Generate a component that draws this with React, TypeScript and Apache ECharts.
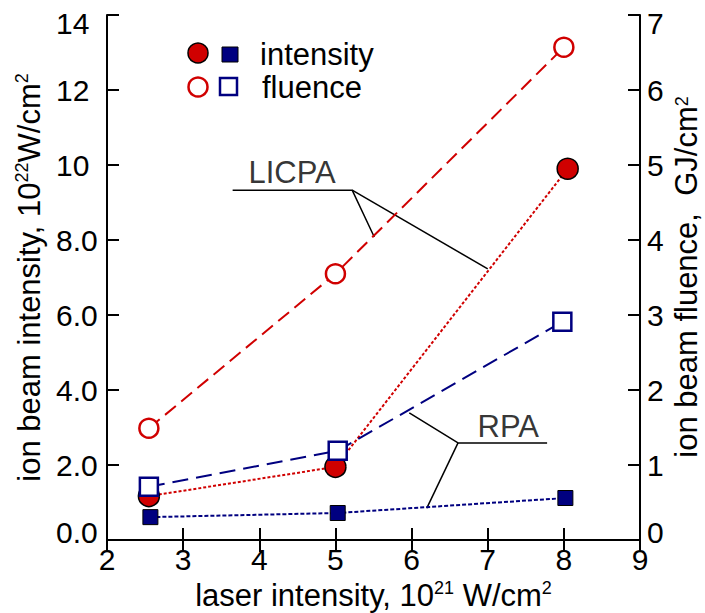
import React, { useEffect, useRef } from "react";
import * as echarts from "echarts";

// ---- data ----
const xTickRange = [2, 9];
const leftRange = [0, 14];
const rightRange = [0, 7];

// LICPA
const licpaFluence = [[2.55, 1.49], [5.0, 3.55], [8.0, 6.57]]; // GJ/cm2 (right axis)
const licpaIntensity = [[2.55, 1.17], [5.0, 1.95], [8.05, 9.9]]; // 1e22 W/cm2 (left axis)
// RPA
const rpaFluence = [[2.55, 0.71], [5.03, 1.19], [7.98, 2.91]]; // right axis
const rpaIntensity = [[2.57, 0.61], [5.03, 0.72], [8.02, 1.12]]; // left axis

// annotation pointers (left-axis data coordinates)
const licpaPointerA = [[3.65, 9.33], [5.22, 9.33], [5.51, 8.08]];
const licpaPointerB = [[5.22, 9.33], [7.0, 7.23]];
const rpaPointerA = [[7.78, 2.59], [6.61, 2.59], [5.97, 3.39]];
const rpaPointerB = [[6.61, 2.59], [6.2, 0.85]];
const annotationLabels = [
  { name: "LICPA", value: [4.43, 9.81] },
  { name: "RPA", value: [7.27, 3.04] },
];

const legendRows = ["intensity", "fluence"];
const rightTitle = "{a|ion beam fluence,  GJ/cm}{s|2}";

const RED = "#d00000";
const NAVY = "#000080";
const FONT = "'Liberation Sans', Arial, Helvetica, sans-serif";
const FS = 31;

export default function App() {
  const ref = useRef<HTMLDivElement>(null);

  useEffect(() => {
    if (!ref.current) return;
    const chart = echarts.init(ref.current, null, { renderer: "svg" });

    const richName = {
      a: { fontSize: FS, fontFamily: FONT, color: "#000", lineHeight: 34 },
      s: { fontSize: 18, fontFamily: FONT, color: "#000", lineHeight: 22, verticalAlign: "top" },
    };
    const richNameRight = {
      a: { fontSize: FS, fontFamily: FONT, fill: "#000", lineHeight: 26 },
      s: { fontSize: 18, fontFamily: FONT, fill: "#000", lineHeight: 14, verticalAlign: "top" },
    };

    const tickStyle = { show: true, inside: true, length: 12, lineStyle: { color: "#000", width: 2 } };
    const axisLineStyle = { show: true, lineStyle: { color: "#000", width: 2 } };
    const labelBase = { color: "#000", fontSize: FS - 1, fontFamily: FONT };

    const pointerSeries = (data: number[][]) => ({
      type: "line",
      xAxisIndex: 0,
      yAxisIndex: 0,
      data,
      symbol: "none",
      silent: true,
      lineStyle: { color: "#000", width: 1.5 },
      z: 1,
    });

    const option: any = {
      animation: false,
      backgroundColor: "#fff",
      grid: { left: 107, right: 65, top: 15, bottom: 73, containLabel: false, outerBoundsMode: "none" },
      xAxis: [
        {
          type: "value",
          position: "bottom",
          min: xTickRange[0],
          max: xTickRange[1],
          interval: 1,
          axisLine: axisLineStyle,
          axisTick: tickStyle,
          splitLine: { show: false },
          axisLabel: { ...labelBase, margin: 4 },
          name: "{a|laser intensity, 10}{s|21}{a| W/cm}{s|2}",
          nameLocation: "middle",
          nameGap: 17,
          nameTextStyle: { rich: richName },
        },
        {
          type: "value",
          position: "top",
          min: xTickRange[0],
          max: xTickRange[1],
          interval: 1,
          axisLine: axisLineStyle,
          axisTick: tickStyle,
          splitLine: { show: false },
          axisLabel: { show: false },
        },
      ],
      yAxis: [
        {
          type: "value",
          position: "left",
          min: leftRange[0],
          max: leftRange[1],
          interval: 2,
          axisLine: axisLineStyle,
          axisTick: tickStyle,
          splitLine: { show: false },
          axisLabel: {
            ...labelBase,
            align: "left",
            margin: 51,
            lineHeight: 16,
            verticalAlignMaxLabel: "top",
            verticalAlignMinLabel: "bottom",
            formatter: (v: number) => (v >= 10 ? String(v) : v.toFixed(1)),
          },
          name: "{a|ion beam intensity, 10}{s|22}{a|W/cm}{s|2}",
          nameLocation: "middle",
          nameRotate: 90,
          nameGap: 60,
          nameTextStyle: { rich: richName },
        },
        {
          type: "value",
          position: "right",
          min: rightRange[0],
          max: rightRange[1],
          interval: 1,
          axisLine: axisLineStyle,
          axisTick: tickStyle,
          splitLine: { show: false },
          axisLabel: {
            ...labelBase,
            align: "left",
            margin: 7,
            lineHeight: 16,
            verticalAlignMaxLabel: "top",
            verticalAlignMinLabel: "bottom",
          },
        },
      ],
      graphic: [
        { type: "circle", shape: { cx: 198, cy: 53, r: 10 }, style: { fill: RED, stroke: "#000", lineWidth: 1.5 } },
        { type: "rect", shape: { x: 222, y: 47, width: 16, height: 15 }, style: { fill: NAVY, stroke: "#000", lineWidth: 1 } },
        { type: "circle", shape: { cx: 198, cy: 87, r: 9.5 }, style: { fill: "#fff", stroke: RED, lineWidth: 2.5 } },
        { type: "rect", shape: { x: 220, y: 78, width: 17, height: 17 }, style: { fill: "#fff", stroke: NAVY, lineWidth: 2.5 } },
        {
          type: "text",
          x: 260,
          y: 54,
          style: { text: legendRows[0], fill: "#000", fontSize: FS, fontFamily: FONT, verticalAlign: "middle", align: "left" },
        },
        {
          type: "text",
          x: 262,
          y: 87,
          style: { text: legendRows[1], fill: "#000", fontSize: FS, fontFamily: FONT, verticalAlign: "middle", align: "left" },
        },
        {
          type: "text",
          x: 686,
          y: 277,
          rotation: Math.PI / 2,
          style: {
            text: rightTitle,
            rich: richNameRight,
            fill: "#000",
            fontSize: FS,
            fontFamily: FONT,
            align: "center",
            verticalAlign: "middle",
          },
        },
      ],
      series: [
        pointerSeries(licpaPointerA),
        pointerSeries(licpaPointerB),
        pointerSeries(rpaPointerA),
        pointerSeries(rpaPointerB),
        {
          type: "scatter",
          xAxisIndex: 0,
          yAxisIndex: 0,
          data: annotationLabels,
          symbolSize: 0,
          silent: true,
          itemStyle: { color: "transparent" },
          label: {
            show: true,
            position: "inside",
            formatter: "{b}",
            color: "#000",
            fontSize: FS,
            fontFamily: FONT,
            textBorderWidth: 0,
            textBorderColor: "transparent",
          },
        },
        {
          name: "LICPA fluence",
          type: "line",
          xAxisIndex: 0,
          yAxisIndex: 1,
          data: licpaFluence,
          symbol: "circle",
          symbolSize: 19,
          lineStyle: { color: RED, width: 2, type: [14, 7] },
          itemStyle: { color: "#fff", borderColor: RED, borderWidth: 2.5 },
          z: 3,
        },
        {
          name: "LICPA intensity",
          type: "line",
          xAxisIndex: 0,
          yAxisIndex: 0,
          data: licpaIntensity,
          symbol: "circle",
          symbolSize: 21,
          lineStyle: { color: RED, width: 2, type: [3, 2] },
          itemStyle: { color: RED, borderColor: "#000", borderWidth: 1.5 },
          z: 3,
        },
        {
          name: "RPA intensity",
          type: "line",
          xAxisIndex: 0,
          yAxisIndex: 0,
          data: rpaIntensity,
          symbol: "rect",
          symbolSize: 15,
          lineStyle: { color: NAVY, width: 2, type: [4, 2] },
          itemStyle: { color: NAVY, borderColor: "#000", borderWidth: 1 },
          z: 3,
        },
        {
          name: "RPA fluence",
          type: "line",
          xAxisIndex: 0,
          yAxisIndex: 1,
          data: rpaFluence,
          symbol: "rect",
          symbolSize: 18,
          lineStyle: { color: NAVY, width: 2, type: [16, 8] },
          itemStyle: { color: "#fff", borderColor: NAVY, borderWidth: 2.5 },
          z: 4,
        },
      ],
    };

    chart.setOption(option);
    return () => chart.dispose();
  }, []);

  return (
    <div
      ref={ref}
      style={{ position: "fixed", left: 0, top: 0, width: 705, height: 613, background: "#fff" }}
    />
  );
}
